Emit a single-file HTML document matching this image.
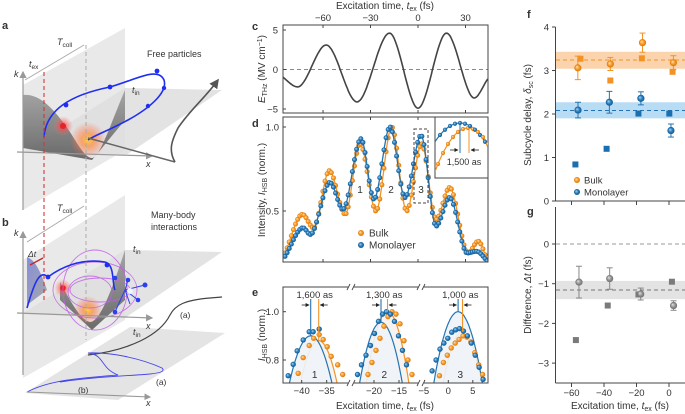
<!DOCTYPE html>
<html><head><meta charset="utf-8"><style>
html,body{margin:0;padding:0;background:#fff;}
svg{display:block;font-family:"Liberation Sans",sans-serif;}
text{fill:#333;}
</style></head><body>
<svg id="fig" width="685" height="414" viewBox="0 0 685 414" xmlns="http://www.w3.org/2000/svg">
<defs>
<radialGradient id="gO" cx="50%" cy="50%" r="50%" fx="35%" fy="35%"><stop offset="0" stop-color="#ffe2b8"/><stop offset="0.6" stop-color="#f7961f"/><stop offset="1" stop-color="#d9780e"/></radialGradient>
<radialGradient id="gB" cx="50%" cy="50%" r="50%" fx="35%" fy="35%"><stop offset="0" stop-color="#a9d3f2"/><stop offset="0.6" stop-color="#2479b8"/><stop offset="1" stop-color="#135a92"/></radialGradient>
<radialGradient id="gG" cx="50%" cy="50%" r="50%" fx="35%" fy="35%"><stop offset="0" stop-color="#e4e4e4"/><stop offset="0.6" stop-color="#909090"/><stop offset="1" stop-color="#6e6e6e"/></radialGradient>
<radialGradient id="glow" cx="50%" cy="50%" r="50%"><stop offset="0" stop-color="#ffd23a" stop-opacity="1"/><stop offset="0.35" stop-color="#ff8a3a" stop-opacity="0.7"/><stop offset="1" stop-color="#ff6a5a" stop-opacity="0"/></radialGradient>
<radialGradient id="glowR" cx="50%" cy="50%" r="50%"><stop offset="0" stop-color="#ff3030" stop-opacity="0.9"/><stop offset="1" stop-color="#ff7070" stop-opacity="0"/></radialGradient>
<linearGradient id="wave" x1="0" y1="0" x2="0" y2="1"><stop offset="0" stop-color="#9a9a9a"/><stop offset="1" stop-color="#555"/></linearGradient>
<linearGradient id="waveB" x1="0" y1="0" x2="1" y2="1"><stop offset="0" stop-color="#6d78d8" stop-opacity="0.8"/><stop offset="1" stop-color="#8a8a8a" stop-opacity="0.7"/></linearGradient>
<marker id="arrG" markerWidth="6" markerHeight="6" refX="5" refY="3" orient="auto"><path d="M0,0 L6,3 L0,6 z" fill="#999"/></marker>
<marker id="arrD" markerWidth="6" markerHeight="6" refX="5" refY="3" orient="auto"><path d="M0,0 L6,3 L0,6 z" fill="#555"/></marker>
<marker id="arrK" markerWidth="5" markerHeight="5" refX="4.5" refY="2.5" orient="auto"><path d="M0,0 L5,2.5 L0,5 z" fill="#222"/></marker>
<clipPath id="clipC"><rect x="283" y="25" width="205" height="88"/></clipPath>
<clipPath id="clipD"><rect x="283" y="117" width="205" height="145"/></clipPath>
<clipPath id="clipIn"><rect x="435" y="117" width="53" height="61"/></clipPath>
<clipPath id="clipE1"><rect x="283" y="287" width="67" height="96"/></clipPath>
<clipPath id="clipE2"><rect x="352" y="287" width="68" height="96"/></clipPath>
<clipPath id="clipE3"><rect x="422" y="287" width="66" height="96"/></clipPath>
</defs>

<!-- ================= Panel a illustration ================= -->
<g>
<text x="2" y="29" font-size="11" font-weight="bold" fill="#111">a</text>
<polygon points="23,85 125,28 125,150 23,210" fill="#e9e9e9"/>
<polygon points="23,152 125,88 222,90 125,156" fill="#dedede" opacity="0.85"/>
<path d="M23,95 C40,93 55,110 70,132 C80,148 86,158 92,158 C100,158 112,120 125,90 L125,120 L92,160 L23,148 Z" fill="url(#wave)" opacity="0.85"/>
<circle cx="88" cy="140" r="18" fill="url(#glow)"/>
<circle cx="63" cy="126" r="10" fill="url(#glowR)"/>
<circle cx="63" cy="126" r="3" fill="#e8202a"/>
<line x1="17" y1="152" x2="152" y2="156" stroke="#999" stroke-width="1.2" marker-end="url(#arrG)"/>
<line x1="23" y1="210" x2="23" y2="72" stroke="#999" stroke-width="1.2" marker-end="url(#arrG)"/>
<line x1="25" y1="80" x2="84" y2="45" stroke="#aaa" stroke-width="1"/>
<text x="14" y="77" font-size="9" font-style="italic">k</text>
<text x="146" y="167" font-size="9" font-style="italic">x</text>
<text x="57" y="45" font-size="9" font-style="italic">T<tspan font-size="6.5" font-style="normal" dy="2">coll</tspan></text>
<text x="29" y="67" font-size="9" font-style="italic">t<tspan font-size="6.5" font-style="normal" dy="2">ex</tspan></text>
<text x="132" y="93" font-size="9" font-style="italic">t<tspan font-size="6.5" font-style="normal" dy="2">in</tspan></text>
<text x="147" y="57" font-size="9">Free particles</text>
<path d="M44,137 C46,110 70,95 110,87 C135,80 158,66 164,80 C168,92 150,108 128,120 C110,130 95,135 88,140" fill="none" stroke="#1f2ef0" stroke-width="1.6"/>
<circle cx="66" cy="105" r="2.4" fill="#1f2ef0"/><circle cx="110" cy="87" r="2.4" fill="#1f2ef0"/><circle cx="157" cy="71" r="2.4" fill="#1f2ef0"/><circle cx="164" cy="88" r="2.2" fill="#1f2ef0"/><circle cx="148" cy="106" r="2.2" fill="#1f2ef0"/>
<path d="M88,138 L175,162" stroke="#666" stroke-width="1.5"/>
<path d="M175,162 C168,150 172,140 178,128 C190,110 205,98 218,80" fill="none" stroke="#555" stroke-width="1.6" marker-end="url(#arrD)"/>
</g>

<!-- ================= Panel b illustration ================= -->
<g>
<polygon points="23,260 125,195 125,320 23,378" fill="#e9e9e9"/>
<polygon points="23,313 125,250 222,252 125,318" fill="#dedede" opacity="0.85"/>
<polygon points="25,393 130,327 225,333 118,400" fill="#e4e4e4"/>
<text x="2" y="226" font-size="11" font-weight="bold" fill="#111">b</text>
<path d="M27,257 C35,260 40,270 47,290 L27,305 Z" fill="url(#waveB)"/>
<path d="M60,282 C70,300 80,320 90,322 C100,322 112,290 125,250 L125,300 L92,330 L60,300 Z" fill="url(#wave)" opacity="0.85"/>
<circle cx="88" cy="310" r="14" fill="url(#glow)"/>
<circle cx="63" cy="288" r="9" fill="url(#glowR)"/>
<circle cx="63" cy="288" r="2.8" fill="#e8202a"/>
<g fill="none" stroke="#c060e8" stroke-width="0.9" opacity="0.85">
<ellipse cx="95" cy="290" rx="32" ry="40"/><ellipse cx="95" cy="290" rx="42" ry="28"/><ellipse cx="90" cy="292" rx="22" ry="16"/><ellipse cx="100" cy="290" rx="30" ry="12"/>
</g>
<line x1="17" y1="313" x2="152" y2="318" stroke="#999" stroke-width="1.2" marker-end="url(#arrG)"/>
<line x1="23" y1="375" x2="23" y2="232" stroke="#999" stroke-width="1.2" marker-end="url(#arrG)"/>
<line x1="27" y1="242" x2="84" y2="206" stroke="#aaa" stroke-width="1"/>
<text x="14" y="236" font-size="9" font-style="italic">k</text>
<text x="146" y="329" font-size="9" font-style="italic">x</text>
<text x="57" y="211" font-size="9" font-style="italic">T<tspan font-size="6.5" font-style="normal" dy="2">coll</tspan></text>
<text x="133" y="252" font-size="9" font-style="italic">t<tspan font-size="6.5" font-style="normal" dy="2">in</tspan></text>
<text x="133" y="335" font-size="9" font-style="italic">t<tspan font-size="6.5" font-style="normal" dy="2">in</tspan></text>
<text x="146" y="406" font-size="9" font-style="italic">x</text>
<text x="151" y="218" font-size="9">Many-body</text>
<text x="151" y="230" font-size="9">interactions</text>
<line x1="30" y1="265" x2="43" y2="258" stroke="#c0282a" stroke-width="1.3"/>
<text x="28" y="257" font-size="8.5" font-style="italic" fill="#c0282a">Δt</text>
<path d="M27,308 C35,280 40,270 48,277 C60,268 80,258 105,262 C115,264 112,285 115,290" fill="none" stroke="#1f2ef0" stroke-width="1.6"/>
<circle cx="48" cy="277" r="2.4" fill="#1f2ef0"/><circle cx="107" cy="265" r="2.4" fill="#1f2ef0"/>
<g stroke="#2a40f0" stroke-width="1"><line x1="125" y1="290" x2="145" y2="285"/><line x1="125" y1="290" x2="138" y2="300"/><line x1="125" y1="290" x2="128" y2="280"/><line x1="125" y1="290" x2="115" y2="312"/><line x1="125" y1="290" x2="130" y2="304"/></g>
<g fill="#2a40f0"><circle cx="145" cy="285" r="2.5"/><circle cx="138" cy="300" r="2.3"/><circle cx="128" cy="280" r="2.3"/><circle cx="115" cy="312" r="2.3"/><circle cx="115" cy="278" r="2.3"/></g>
<circle cx="130" cy="291" r="3" fill="#f4f4ff"/>
<path d="M88,355 C130,350 160,335 170,315 C175,305 185,300 210,298 L222,297" fill="none" stroke="#444" stroke-width="1.2"/>
<text x="180" y="318" font-size="8.5">(a)</text>
<path d="M27,392 C50,380 80,378 118,375 C100,368 105,355 88,353 C110,352 140,358 162,368 C166,372 158,373 150,374 C130,376 100,376 60,382" fill="none" stroke="#4747e8" stroke-width="0.9"/>
<text x="156" y="385" font-size="8.5" fill="#2a40f0">(a)</text>
<text x="78" y="393" font-size="8.5" fill="#2a40f0">(b)</text>
<line x1="27" y1="392" x2="150" y2="397" stroke="#999" stroke-width="1.1" marker-end="url(#arrG)"/>
</g>
<line x1="44" y1="72" x2="44" y2="300" stroke="#d0383a" stroke-width="1.1" stroke-dasharray="4,3"/>
<line x1="86" y1="45" x2="86" y2="340" stroke="#aaa" stroke-width="1" stroke-dasharray="4,3"/>

<g id="charts"></g>
</svg>

<script>
// ---------- data ----------
// panel c: THz field extrema
const cTimes = [-87, -76, -58, -38.5, -18, 0, 18, 35.5, 44];
const cField = [-0.7, -2.2, 3.1, -4.1, 4.6, -4.9, 4.6, -3.6, -1.2];
const cTicksY = [5, 0, -5];
const timeTicks = [-60, -30, 0, 30];
// panel d: HSB intensity
const bulkTimes = [-84, -73, -66, -56, -46, -36.6, -26.5, -16.6, -7.2, 2.3, 11.4, 20, 31.6, 38, 44];
const bulkInt = [0.25, 0.48, 0.40, 0.74, 0.48, 0.90, 0.50, 1.0, 0.50, 0.90, 0.45, 0.64, 0.25, 0.32, 0.20];
const monoTimes = [-84, -72.6, -68, -55.6, -47.4, -36, -27.8, -17.7, -8.2, 1.9, 11.4, 20, 31, 37, 44];
const monoInt = [0.23, 0.40, 0.36, 0.67, 0.51, 0.93, 0.57, 1.0, 0.58, 0.95, 0.41, 0.58, 0.25, 0.26, 0.20];
const dTicksY = [1.0, 0.5];
// panel e: zoom of peaks
const eBlueT = [-42.7,-41.7,-40.9,-39.7,-38.5,-37.7,-36.5, -23.3,-22.5,-21.6,-20.7,-19.9,-19.1,-18.3,-17.5,-16.7,-15.9,-15.1,-14.3,-13.5, -3.3,-2.5,-1.7,-0.9,-0.1,0.7,1.5,2.3,3.1,3.9,4.7,5.5,6.3,7.1];
const eBlueI = [0.735,0.782,0.838,0.883,0.917,0.917,0.928, 0.74,0.78,0.82,0.86,0.91,0.96,0.99,1.0,0.99,0.96,0.90,0.84,0.78, 0.755,0.80,0.845,0.87,0.89,0.915,0.925,0.93,0.92,0.90,0.87,0.82,0.77,0.72];
const eOrangeT = [-40.7,-39.7,-38.5,-37.6,-36.5,-35.7,-34.9,-34.1,-32.8,-31.8, -21.2,-20.4,-19.6,-18.8,-18,-17.2,-16.4,-15.6,-14.8,-14,-13.2,-12.4, -1.8,-1,-0.2,0.6,1.4,2.2,3,3.8,4.6,5.4,6.2,7];
const eOrangeI = [0.745,0.81,0.86,0.89,0.905,0.885,0.855,0.815,0.78,0.74, 0.74,0.79,0.84,0.89,0.94,0.98,1.0,0.99,0.95,0.88,0.80,0.74, 0.735,0.79,0.82,0.85,0.87,0.885,0.9,0.895,0.875,0.83,0.78,0.74];
const blueFitT = [-38.2, -18.6, 2.0];
const blueFitPeak = [0.90, 0.956, 1.0];
const blueFitCurv = [0.0108, 0.0138, 0.012];
const orangeFitT = [-36.6, -17.3, 2.9];
const orangeFitPeak = [0.88, 1.0, 0.917];
const orangeFitCurv = [0.0131, 0.0162, 0.0136];
const eDelayLabels = ["1,600 as", "1,300 as", "1,000 as"];
const ePeakLabels = ["1", "2", "3"];
const eTicks = [[-40, -35], [-20, -15], [-5, 0, 5]];
const eTicksY = [1.0, 0.8];
// panel f: subcycle delay
const fTimesBulkC = [-56.1, -36.1, -16.3, 2.7];
const fBulkC = [3.06, 3.15, 3.64, 3.18];
const fBulkErr = [0.27, 0.15, 0.22, 0.16];
const fTimesBulkS = [-54.5, -36.1, -16.7, 2.2];
const fBulkS = [3.27, 2.77, 3.28, 2.97];
const fTimesMonoC = [-56, -36.7, -17.3, 1.2];
const fMonoC = [2.09, 2.27, 2.36, 1.62];
const fMonoErr = [0.18, 0.25, 0.15, 0.15];
const fTimesMonoS = [-57.6, -38.4, -18.8, 0.2];
const fMonoS = [0.84, 1.20, 2.01, 2.01];
const fBulkBand = [3.04, 3.24, 3.43];
const fMonoBand = [1.90, 2.08, 2.27];
const fTicksY = [0, 1, 2, 3, 4];
// panel g: difference
const gTimesC = [-55.4, -36.5, -17.4, 2.8];
const gDiffC = [-0.96, -0.87, -1.26, -1.55];
const gErrC = [0.40, 0.27, 0.15, 0.12];
const gTimesS = [-57.3, -37.7, -18.8, 1.8];
const gDiffS = [-2.42, -1.55, -1.27, -0.95];
const gBand = [-1.39, -1.16, -0.93];
const gTicksY = [0, -1, -2, -3];
const fgTicksX = [-60, -40, -20, 0];

// ---------- helpers ----------
const NS = 'http://www.w3.org/2000/svg';
const root = document.getElementById('charts');
function mk(tag, attrs, parent) {
  const e = document.createElementNS(NS, tag);
  for (const k in attrs) e.setAttribute(k, attrs[k]);
  (parent || root).appendChild(e);
  return e;
}
function monotone(xs, ys) {
  const n = xs.length, d = [], m = [];
  for (let i = 0; i < n - 1; i++) d.push((ys[i + 1] - ys[i]) / (xs[i + 1] - xs[i]));
  m[0] = d[0]; m[n - 1] = d[n - 2];
  for (let i = 1; i < n - 1; i++) m[i] = (d[i - 1] * d[i] <= 0) ? 0 : (d[i - 1] + d[i]) / 2;
  for (let i = 0; i < n - 1; i++) {
    if (d[i] === 0) { m[i] = 0; m[i + 1] = 0; continue; }
    const a = m[i] / d[i], b = m[i + 1] / d[i], s = a * a + b * b;
    if (s > 9) { const t = 3 / Math.sqrt(s); m[i] = t * a * d[i]; m[i + 1] = t * b * d[i]; }
  }
  return function (x) {
    let i = 0;
    while (i < n - 2 && x > xs[i + 1]) i++;
    const h = xs[i + 1] - xs[i], t = (x - xs[i]) / h, t2 = t * t, t3 = t2 * t;
    return (2 * t3 - 3 * t2 + 1) * ys[i] + (t3 - 2 * t2 + t) * h * m[i] + (-2 * t3 + 3 * t2) * ys[i + 1] + (t3 - t2) * h * m[i + 1];
  };
}
function txt(x, y, s, size, anchor, parent) {
  const t = mk('text', { x: x, y: y, 'font-size': size || 9.5, 'text-anchor': anchor || 'middle' }, parent);
  t.textContent = s;
  return t;
}
function fmtNum(v, dec) { const s = v.toFixed(dec); return s.replace('-', '\u2212'); }
function sphere(x, y, grad, r, parent) {
  return mk('circle', { cx: x, cy: y, r: r || 2.6, fill: 'url(#' + grad + ')' }, parent);
}
const ORANGE = '#f39325', BLUE = '#2474b3';

// ---------- shared time axis for c & d ----------
const tx = t => 418 + t * 1.583;

// ---------- panel c ----------
const gc = mk('g', {});


const cy = v => 69.5 - v * 7.9;
const lc = txt(252, 30, 'c', 11, 'start', gc); lc.setAttribute('font-weight', 'bold'); lc.setAttribute('fill', '#111');


const topTitle = mk('text', { x: 385, y: 9, 'font-size': 10, 'text-anchor': 'middle' }, gc);
topTitle.innerHTML = 'Excitation time, <tspan font-style="italic">t</tspan><tspan font-size="7" dy="2">ex</tspan><tspan dy="-2"> (fs)</tspan>';


mk('line', { x1: 283, y1: cy(0), x2: 488, y2: cy(0), stroke: '#888', 'stroke-dasharray': '4,3', 'stroke-width': 0.9 }, gc);
const fc = monotone(cTimes, cField);
let dc = '';
for (let t = cTimes[0]; t <= cTimes[cTimes.length - 1] + 0.001; t += 0.5) dc += (dc ? 'L' : 'M') + tx(t).toFixed(1) + ',' + cy(fc(t)).toFixed(1);
const cLine = mk('path', { d: dc, fill: 'none', stroke: '#444', 'stroke-width': 1.6, 'clip-path': 'url(#clipC)' }, gc);


mk('rect', { x: 283, y: 25, width: 205, height: 88, fill: 'none', stroke: '#444', 'stroke-width': 1 }, gc);
cTicksY.forEach(v => {
  mk('line', { x1: 283, y1: cy(v), x2: 286, y2: cy(v), stroke: '#444' }, gc);
  txt(278, cy(v) + 3.5, fmtNum(v, 0), 9.5, 'end', gc);
});
timeTicks.forEach(v => {
  mk('line', { x1: tx(v), y1: 25, x2: tx(v), y2: 28, stroke: '#444' }, gc);
  mk('line', { x1: tx(v), y1: 113, x2: tx(v), y2: 110, stroke: '#444' }, gc);
  txt(tx(v), 21, fmtNum(v, 0), 9.5, 'middle', gc);
});
const cyl = mk('text', { transform: 'translate(265,69) rotate(-90)', 'font-size': 10, 'text-anchor': 'middle' }, gc);
cyl.innerHTML = '<tspan font-style="italic">E</tspan><tspan font-size="7" dy="2">THz</tspan><tspan dy="-2"> (MV cm</tspan><tspan font-size="7" dy="-3">−1</tspan><tspan dy="3">)</tspan>';



// ---------- panel d ----------
const gd = mk('g', {});


const dy = v => 127 + (1 - v) * 168;
const ld = txt(252, 127, 'd', 11, 'start', gd); ld.setAttribute('font-weight', 'bold'); ld.setAttribute('fill', '#111');


function drawSeries(times, vals, color, grad, name) {
  const f = monotone(times, vals);
  let p = '';
  for (let t = times[0]; t <= times[times.length - 1] + 0.001; t += 0.4) p += (p ? 'L' : 'M') + tx(t).toFixed(1) + ',' + dy(f(t)).toFixed(1);
  const line = mk('path', { d: p, fill: 'none', stroke: color, 'stroke-width': 1.3, 'clip-path': 'url(#clipD)' }, gd);
  
  
  const mg = mk('g', { 'clip-path': 'url(#clipD)' }, gd);
  
  
  for (let t = times[0]; t <= times[times.length - 1] + 0.001; t += 1.33) sphere(tx(t), dy(f(t)), grad, 2.5, mg);
}
drawSeries(bulkTimes, bulkInt, ORANGE, 'gO', 'bulk');
drawSeries(monoTimes, monoInt, BLUE, 'gB', 'monolayer');
mk('rect', { x: 283, y: 117, width: 205, height: 145, fill: 'none', stroke: '#444', 'stroke-width': 1 }, gd);
dTicksY.forEach(v => {
  mk('line', { x1: 283, y1: dy(v), x2: 286, y2: dy(v), stroke: '#444' }, gd);
  txt(279, dy(v) + 3.5, v.toFixed(1), 9.5, 'end', gd);
});
timeTicks.forEach(v => {
  mk('line', { x1: tx(v), y1: 262, x2: tx(v), y2: 259, stroke: '#444' }, gd);
  mk('line', { x1: tx(v), y1: 117, x2: tx(v), y2: 120, stroke: '#444' }, gd);
});
ePeakLabels.forEach((s, i) => txt([360, 391, 421][i], 193, s, 10, 'middle', gd));
const dbox = mk('rect', { x: 414, y: 129, width: 14, height: 74, fill: 'none', stroke: '#444', 'stroke-dasharray': '3,2' }, gd);


const dyl = mk('text', { transform: 'translate(265,190) rotate(-90)', 'font-size': 10, 'text-anchor': 'middle' }, gd);
dyl.innerHTML = 'Intensity, <tspan font-style="italic">I</tspan><tspan font-size="7" dy="2">HSB</tspan><tspan dy="-2"> (norm.)</tspan>';


// legend
const leg = mk('g', {}, gd);


sphere(361, 233, 'gO', 3, leg); txt(369, 236.5, 'Bulk', 10, 'start', leg);
sphere(361, 245, 'gB', 3, leg); txt(369, 248.5, 'Monolayer', 10, 'start', leg);
// inset
const gi = mk('g', {}, gd);


mk('rect', { x: 435, y: 117, width: 53, height: 61, fill: '#fff', stroke: '#444' }, gi);
const insB = t => 123 + 0.030 * (t - 460) * (t - 460);
const insO = t => 128 + 0.040 * (t - 468) * (t - 468);
let pb = '', po = '';
for (let x = 435; x <= 488; x += 1) { pb += (pb ? 'L' : 'M') + x + ',' + insB(x).toFixed(1); po += (po ? 'L' : 'M') + x + ',' + insO(x).toFixed(1); }
mk('path', { d: po, fill: 'none', stroke: ORANGE, 'stroke-width': 1.2, 'clip-path': 'url(#clipIn)' }, gi);
mk('path', { d: pb, fill: 'none', stroke: BLUE, 'stroke-width': 1.2, 'clip-path': 'url(#clipIn)' }, gi);
for (let x = 438; x <= 488; x += 5) { sphere(x, insO(x), 'gO', 2.1, gi).setAttribute('clip-path', 'url(#clipIn)'); sphere(x + 2, insB(x + 2), 'gB', 2.1, gi).setAttribute('clip-path', 'url(#clipIn)'); }
mk('line', { x1: 460, y1: 123, x2: 460, y2: 153, stroke: BLUE, 'stroke-width': 1 }, gi);
mk('line', { x1: 469, y1: 128, x2: 469, y2: 153, stroke: ORANGE, 'stroke-width': 1 }, gi);
mk('line', { x1: 450, y1: 150, x2: 458, y2: 150, stroke: '#222', 'stroke-width': 0.8, 'marker-end': 'url(#arrK)' }, gi);
mk('line', { x1: 479, y1: 150, x2: 471, y2: 150, stroke: '#222', 'stroke-width': 0.8, 'marker-end': 'url(#arrK)' }, gi);
txt(464, 165, '1,500 as', 9, 'middle', gi);

// ---------- panel e ----------
const ge = mk('g', {});


const le = txt(252, 296, 'e', 11, 'start', ge); le.setAttribute('font-weight', 'bold'); le.setAttribute('fill', '#111');


const eY = v => 311.7 + (1 - v) * 241.5;
const eSegX = [t => 301.7 + 5 * (t + 40), t => 374 + 5 * (t + 20), t => 448.3 + 4.9 * t];
const eClip = ['url(#clipE1)', 'url(#clipE2)', 'url(#clipE3)'];
const segOf = t => (t < -27 ? 0 : (t < -8 ? 1 : 2));
for (let s = 0; s < 3; s++) {
  const X = eSegX[s];
  const sg = mk('g', { 'clip-path': eClip[s] }, ge);
  
  
  [[orangeFitT, orangeFitPeak, orangeFitCurv, ORANGE, '#f6f2ee'], [blueFitT, blueFitPeak, blueFitCurv, BLUE, '#eef3f8']].forEach(([T0, P, A, col, fill]) => {
    const f = t => P[s] - A[s] * (t - T0[s]) * (t - T0[s]);
    const half = Math.sqrt((P[s] - 0.68) / A[s]);
    let p = '';
    for (let t = T0[s] - half; t <= T0[s] + half + 0.01; t += 0.1) p += (p ? 'L' : 'M') + X(t).toFixed(1) + ',' + eY(f(t)).toFixed(1);
    mk('path', { d: p + 'L' + X(T0[s] + half).toFixed(1) + ',383L' + X(T0[s] - half).toFixed(1) + ',383Z', fill: fill, opacity: 0.9 }, sg);
    const fl = mk('path', { d: p, fill: 'none', stroke: col, 'stroke-width': 1.2 }, sg);
    
    
    mk('line', { x1: X(T0[s]), y1: eY(f(T0[s])), x2: X(T0[s]), y2: 299, stroke: col, 'stroke-width': 1.1 }, ge);
  });
  eOrangeT.forEach((t, i) => { if (segOf(t) === s) sphere(X(t), eY(eOrangeI[i]), 'gO', 2.7, sg); });
  eBlueT.forEach((t, i) => { if (segOf(t) === s) sphere(X(t), eY(eBlueI[i]), 'gB', 2.7, sg); });
  const bx = X(blueFitT[s]), ox = X(orangeFitT[s]);
  mk('line', { x1: bx - 9, y1: 305, x2: bx - 1.5, y2: 305, stroke: '#222', 'stroke-width': 0.8, 'marker-end': 'url(#arrK)' }, ge);
  mk('line', { x1: ox + 9, y1: 305, x2: ox + 1.5, y2: 305, stroke: '#222', 'stroke-width': 0.8, 'marker-end': 'url(#arrK)' }, ge);
  const lab = txt((bx + ox) / 2, 298, eDelayLabels[s], 9.5, 'middle', ge);
  
  
  txt(X((blueFitT[s] + orangeFitT[s]) / 2), 378, ePeakLabels[s], 10, 'middle', ge);
  eTicks[s].forEach(v => {
    mk('line', { x1: X(v), y1: 383, x2: X(v), y2: 380, stroke: '#444' }, ge);
    txt(X(v), 394, fmtNum(v, 0), 9.5, 'middle', ge);
  });
}
mk('rect', { x: 283, y: 287, width: 205, height: 96, fill: 'none', stroke: '#444', 'stroke-width': 1 }, ge);
[351, 421].forEach(x => {
  mk('rect', { x: x - 3, y: 284, width: 6, height: 6, fill: '#fff' }, ge);
  mk('rect', { x: x - 3, y: 380, width: 6, height: 6, fill: '#fff' }, ge);
  ['M' + (x - 4) + ',290L' + (x - 1) + ',284', 'M' + (x + 1) + ',290L' + (x + 4) + ',284', 'M' + (x - 4) + ',386L' + (x - 1) + ',380', 'M' + (x + 1) + ',386L' + (x + 4) + ',380'].forEach(d => mk('path', { d: d, stroke: '#444', 'stroke-width': 0.9 }, ge));
});
eTicksY.forEach(v => {
  mk('line', { x1: 283, y1: eY(v), x2: 286, y2: eY(v), stroke: '#444' }, ge);
  txt(279, eY(v) + 3.5, v.toFixed(1), 9.5, 'end', ge);
});
const eyl = mk('text', { transform: 'translate(265,335) rotate(-90)', 'font-size': 10, 'text-anchor': 'middle' }, ge);
eyl.innerHTML = '<tspan font-style="italic">I</tspan><tspan font-size="7" dy="2">HSB</tspan><tspan dy="-2"> (norm.)</tspan>';


const exl = mk('text', { x: 385, y: 409, 'font-size': 10, 'text-anchor': 'middle' }, ge);
exl.innerHTML = 'Excitation time, <tspan font-style="italic">t</tspan><tspan font-size="7" dy="2">ex</tspan><tspan dy="-2"> (fs)</tspan>';



// ---------- panels f & g ----------
const fx = t => 669 + t * 1.625;
const fy = v => 201 - v * 43.5;
const gy = v => 244 - v * 39.7;
const gf = mk('g', {});


const lf = txt(527, 18, 'f', 11, 'start', gf); lf.setAttribute('font-weight', 'bold'); lf.setAttribute('fill', '#111');
const bandB = mk('rect', { x: 556, y: fy(fBulkBand[2]), width: 129, height: fy(fBulkBand[0]) - fy(fBulkBand[2]), fill: '#fbd3ad' }, gf);


const bandM = mk('rect', { x: 556, y: fy(fMonoBand[2]), width: 129, height: fy(fMonoBand[0]) - fy(fMonoBand[2]), fill: '#b9dcf5' }, gf);


mk('line', { x1: 556, y1: fy(fBulkBand[1]), x2: 685, y2: fy(fBulkBand[1]), stroke: ORANGE, 'stroke-dasharray': '4,3' }, gf);
mk('line', { x1: 556, y1: fy(fMonoBand[1]), x2: 685, y2: fy(fMonoBand[1]), stroke: BLUE, 'stroke-dasharray': '4,3' }, gf);
function errPt(x, y, yl, yh, col, grad, parent) {
  mk('line', { x1: x, y1: yl, x2: x, y2: yh, stroke: col, 'stroke-width': 1 }, parent);
  mk('line', { x1: x - 3, y1: yl, x2: x + 3, y2: yl, stroke: col, 'stroke-width': 1 }, parent);
  mk('line', { x1: x - 3, y1: yh, x2: x + 3, y2: yh, stroke: col, 'stroke-width': 1 }, parent);
  return sphere(x, y, grad, 3.6, parent);
}
fTimesBulkS.forEach((t, i) => { const r = mk('rect', { x: fx(t) - 3, y: fy(fBulkS[i]) - 3, width: 6, height: 6, fill: ORANGE }, gf);   });
fTimesMonoS.forEach((t, i) => { const r = mk('rect', { x: fx(t) - 3, y: fy(fMonoS[i]) - 3, width: 6, height: 6, fill: '#1a6fb0' }, gf);   });
fTimesBulkC.forEach((t, i) => { const c = errPt(fx(t), fy(fBulkC[i]), fy(fBulkC[i] - fBulkErr[i]), fy(fBulkC[i] + fBulkErr[i]), ORANGE, 'gO', gf);   });
fTimesMonoC.forEach((t, i) => { const c = errPt(fx(t), fy(fMonoC[i]), fy(fMonoC[i] - fMonoErr[i]), fy(fMonoC[i] + fMonoErr[i]), BLUE, 'gB', gf);   });
mk('line', { x1: 555.5, y1: fy(4), x2: 555.5, y2: 201, stroke: '#444' }, gf);
mk('line', { x1: 555.5, y1: 201, x2: 685, y2: 201, stroke: '#444' }, gf);
fTicksY.forEach(v => { mk('line', { x1: 552, y1: fy(v), x2: 555.5, y2: fy(v), stroke: '#444' }, gf); txt(549, fy(v) + 3.5, String(v), 9.5, 'end', gf); });
fgTicksX.forEach(v => mk('line', { x1: fx(v), y1: 201, x2: fx(v), y2: 205, stroke: '#444' }, gf));
const fleg = mk('g', {}, gf);


sphere(577, 180, 'gO', 3, fleg); txt(584, 183.5, 'Bulk', 9.5, 'start', fleg);
sphere(577, 192, 'gB', 3, fleg); txt(584, 195.5, 'Monolayer', 9.5, 'start', fleg);
const fyl = mk('text', { transform: 'translate(531,115) rotate(-90)', 'font-size': 10, 'text-anchor': 'middle' }, gf);
fyl.innerHTML = 'Subcycle delay, <tspan font-style="italic">δ</tspan><tspan font-size="7" dy="2">sc</tspan><tspan dy="-2"> (fs)</tspan>';



const gg = mk('g', {});


const lg = txt(527, 215, 'g', 11, 'start', gg); lg.setAttribute('font-weight', 'bold'); lg.setAttribute('fill', '#111');
const bandG = mk('rect', { x: 556, y: gy(gBand[2]), width: 129, height: gy(gBand[0]) - gy(gBand[2]), fill: '#e3e3e3' }, gg);


mk('line', { x1: 556, y1: gy(gBand[1]), x2: 685, y2: gy(gBand[1]), stroke: '#777', 'stroke-dasharray': '4,3' }, gg);
mk('line', { x1: 556, y1: gy(0), x2: 685, y2: gy(0), stroke: '#999', 'stroke-dasharray': '4,3' }, gg);
gTimesS.forEach((t, i) => { const r = mk('rect', { x: fx(t) - 3, y: gy(gDiffS[i]) - 3, width: 6, height: 6, fill: '#7a7a7a' }, gg);   });
gTimesC.forEach((t, i) => { const c = errPt(fx(t), gy(gDiffC[i]), gy(gDiffC[i] - gErrC[i]), gy(gDiffC[i] + gErrC[i]), '#888', 'gG', gg);   });
mk('line', { x1: 555.5, y1: 207, x2: 555.5, y2: 383, stroke: '#444' }, gg);
mk('line', { x1: 555.5, y1: 383, x2: 685, y2: 383, stroke: '#444' }, gg);
gTicksY.forEach(v => { mk('line', { x1: 552, y1: gy(v), x2: 555.5, y2: gy(v), stroke: '#444' }, gg); txt(549, gy(v) + 3.5, fmtNum(v, 0), 9.5, 'end', gg); });
fgTicksX.forEach(v => { mk('line', { x1: fx(v), y1: 383, x2: fx(v), y2: 387, stroke: '#444' }, gg); txt(fx(v), 396, fmtNum(v, 0), 9.5, 'middle', gg); });
const gyl = mk('text', { transform: 'translate(531,295) rotate(-90)', 'font-size': 10, 'text-anchor': 'middle' }, gg);
gyl.innerHTML = 'Difference, <tspan font-style="italic">Δt</tspan> (fs)';


const gxl = mk('text', { x: 620, y: 409, 'font-size': 10, 'text-anchor': 'middle' }, gg);
gxl.innerHTML = 'Excitation time, <tspan font-style="italic">t</tspan><tspan font-size="7" dy="2">ex</tspan><tspan dy="-2"> (fs)</tspan>';


</script>
</body></html>
